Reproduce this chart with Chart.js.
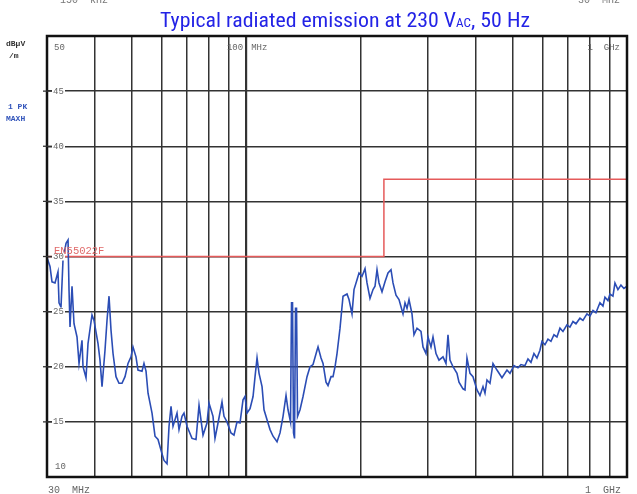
<!DOCTYPE html>
<html><head><meta charset="utf-8">
<script src="https://cdn.jsdelivr.net/npm/chart.js@4.4.0/dist/chart.umd.min.js"></script>
<style>
html,body{margin:0;padding:0;background:#fff;}
#wrap{position:relative;width:637px;height:494px;overflow:hidden;background:#fff;}
#c{position:absolute;left:0;top:0;}
#title{position:absolute;left:160px;top:8px;white-space:nowrap;font-family:'Liberation Sans Narrow','Roboto Condensed','Liberation Sans',Arial,sans-serif;font-size:20px;line-height:24px;color:#2323e6;transform-origin:0 0;}
#title .sub{font-size:12px;}
</style></head><body>
<div id="wrap"><canvas id="c" width="637" height="494"></canvas><div id="title">Typical radiated emission at 230 V<span class="sub">AC</span>, 50 Hz</div></div>
<script>
// Peak trace (MHz, dBµV/m)
const traceFreqMHz = [30.0,30.55,30.92,31.49,32.06,32.26,32.65,33.05,33.66,34.07,34.27,34.48,34.90,35.32,35.97,36.41,37.07,37.30,37.98,38.44,39.38,39.86,40.84,41.33,41.84,42.60,43.12,43.65,44.18,44.72,45.53,46.36,47.21,48.08,48.96,49.85,50.46,51.38,52.00,53.28,53.92,54.59,55.26,56.61,57.64,58.70,60.13,60.86,61.98,62.74,63.50,64.27,65.84,66.64,67.86,68.68,69.94,72.09,73.85,75.21,77.05,78.93,79.89,81.85,82.84,84.36,86.42,87.47,89.07,91.25,92.92,94.63,96.36,98.13,99.32,100.54,102.38,104.26,105.53,106.81,108.11,110.09,111.42,113.46,115.54,117.66,120.53,122.74,124.99,127.27,128.82,130.78,131.57,132.37,133.17,133.98,134.79,135.61,136.43,138.51,141.05,144.49,147.13,149.84,153.50,154.44,157.26,159.18,162.08,164.05,167.06,169.09,171.15,173.22,176.39,179.63,184.01,186.26,189.66,191.96,195.48,197.86,201.48,205.18,207.66,211.46,215.34,217.96,220.60,223.29,227.37,231.54,235.77,240.08,243.01,247.45,251.98,258.15,261.29,264.45,267.68,272.57,275.87,280.93,287.81,291.32,296.64,300.25,305.74,309.47,315.12,320.89,328.75,334.76,338.83,342.94,349.24,357.76,362.12,371.00,375.50,380.05,387.01,394.11,398.90,403.73,411.12,418.67,423.76,428.89,436.74,444.76,455.61,469.60,484.00,492.86,504.91,517.29,526.75,539.65,549.52,559.57,569.79,580.22,590.84,598.03,609.00,620.13,631.47,643.00,654.78,666.76,679.01,695.57,708.30,721.31,734.45,752.43,766.25,784.95,799.31,814.00,828.86,849.12,864.71,875.22,891.22,902.03,918.59,929.76,946.74,964.05,981.65,1000];
const traceLevel = [29.9,29.1,27.7,27.6,28.6,25.8,25.4,29.7,31.2,31.5,27.0,23.6,27.3,23.9,22.7,20.3,22.4,20.0,19.0,22.1,24.7,24.2,22.1,20.6,18.2,21.5,24.2,26.4,23.3,21.2,19.1,18.5,18.5,19.1,20.3,20.9,21.8,20.9,19.7,19.6,20.3,19.6,17.6,15.8,13.7,13.4,12.1,11.5,11.2,14.6,16.4,14.6,15.8,14.3,15.5,15.8,14.6,13.5,13.4,16.5,13.8,14.9,16.7,15.5,13.5,14.9,16.8,15.5,15.0,14.0,13.8,15.0,14.9,17.0,17.3,15.8,16.2,17.3,19.1,20.8,19.4,18.2,16.1,15.2,14.3,13.7,13.2,14.0,15.5,17.4,16.1,15.0,25.8,25.8,14.0,13.5,25.3,25.3,15.5,16.1,17.3,19.1,20.0,20.2,21.5,21.8,20.8,20.3,18.6,18.3,19.1,19.1,20.0,21.2,23.5,26.4,26.6,26.1,24.8,27.0,27.9,28.5,28.2,28.9,27.6,26.2,27.0,27.3,28.8,27.6,26.8,27.7,28.5,28.8,27.6,26.5,26.1,24.8,25.8,25.3,26.1,24.8,22.9,23.5,23.2,21.8,21.2,22.7,21.8,22.7,21.2,20.6,20.9,20.3,22.9,20.6,20.0,19.4,18.6,18.0,17.9,20.8,19.4,19.1,18.5,17.9,17.4,18.2,17.6,18.8,18.5,20.3,19.7,19.0,19.7,19.4,20.1,19.9,20.2,20.1,20.7,20.4,21.2,20.8,21.5,22.3,22.0,22.5,22.3,22.9,22.7,23.5,23.2,23.8,23.6,24.1,23.9,24.4,24.2,24.8,24.6,25.1,24.9,25.8,25.5,26.3,26.0,26.6,26.4,27.6,27.0,27.4,27.1,27.3];
// EN55022 class limit (step)
const limitFreqMHz = [30, 230, 230, 1000];
const limitLevel = [30, 30, 37, 37];
// Axis grid / tick values
const xGridMHz = [30,40,50,60,70,80,90,100,200,300,400,500,600,700,800,900,1000];
const yTickValues = [10,15,20,25,30,35,40,45,50];

const MONO = '"Liberation Mono","DejaVu Sans Mono",monospace';

const labelsPlugin = {
  id: 'labels',
  afterDraw(chart) {
    const ctx = chart.ctx, xs = chart.scales.x, ys = chart.scales.y, a = chart.chartArea;
    ctx.save();
    // frame
    ctx.strokeStyle = '#111'; ctx.lineWidth = 2.5;
    ctx.strokeRect(a.left, a.top, a.right - a.left, a.bottom - a.top);
    // y tick labels on the lines
    ctx.font = '9px ' + MONO; ctx.textBaseline = 'middle'; ctx.textAlign = 'left';
    yTickValues.forEach(v => {
      const y = ys.getPixelForValue(v);
      if (v === 50) { ctx.fillStyle = '#666'; ctx.fillText('50', a.left + 7, a.top + 12); return; }
      if (v === 10) { ctx.fillStyle = '#666'; ctx.fillText('10', a.left + 8, a.bottom - 10); return; }
      ctx.fillStyle = '#fff'; ctx.fillRect(a.left + 5, y - 4, 13, 8);
      ctx.strokeStyle = '#333'; ctx.lineWidth = 1.3;
      ctx.beginPath(); ctx.moveTo(a.left - 4, y); ctx.lineTo(a.left + 5, y); ctx.stroke();
      ctx.fillStyle = '#666'; ctx.fillText(String(v), a.left + 6, y);
    });
    // x labels
    ctx.font = '9px ' + MONO; ctx.fillStyle = '#666';
    const x100 = xs.getPixelForValue(100);
    ctx.textAlign = 'right'; ctx.fillText('100', x100 - 3, a.top + 12);
    ctx.textAlign = 'left'; ctx.fillText('MHz', x100 + 5, a.top + 12);
    ctx.textAlign = 'right'; ctx.fillText('1  GHz', a.right - 7, a.top + 12);
    ctx.font = '10px ' + MONO;
    ctx.fillText('1  GHz', a.right - 6, a.bottom + 13);
    ctx.textAlign = 'left'; ctx.fillText('30  MHz', a.left + 1, a.bottom + 13);
    // cut-off header texts
    ctx.fillStyle = '#777';
    ctx.fillText('150  kHz', 60, 0);
    ctx.textAlign = 'right'; ctx.fillText('30  MHz', 620, 0);
    // limit label
    ctx.textAlign = 'left'; ctx.textBaseline = 'alphabetic';
    ctx.font = '10.5px ' + MONO; ctx.fillStyle = '#e06a6a';
    ctx.fillText('EN55022F', a.left + 7, ys.getPixelForValue(30) - 3);
    // left side labels
    ctx.font = 'bold 8px ' + MONO; ctx.fillStyle = '#333';
    ctx.fillText('dB\u00b5V', 6, 46);
    ctx.fillText('/m', 9, 58);
    ctx.fillStyle = '#3355bb';
    ctx.fillText('1 PK', 8, 109);
    ctx.fillText('MAXH', 6, 121);
    ctx.restore();
  }
};

new Chart(document.getElementById('c'), {
  type: 'line',
  data: {
    datasets: [
      { label: '1 PK MAXH', data: traceFreqMHz.map((f, i) => ({ x: f, y: traceLevel[i] })),
        borderColor: '#2b4db5', borderWidth: 1.6, pointRadius: 0, tension: 0, fill: false },
      { label: 'EN55022F', data: limitFreqMHz.map((f, i) => ({ x: f, y: limitLevel[i] })),
        borderColor: '#e55a5a', borderWidth: 1.5, pointRadius: 0, tension: 0, fill: false }
    ]
  },
  options: {
    responsive: false, animation: false, devicePixelRatio: 1,
    layout: { padding: { left: 47, top: 36, right: 10, bottom: 17 } },
    plugins: { legend: { display: false }, tooltip: { enabled: false }, title: { display: false } },
    scales: {
      x: { type: 'logarithmic', min: 30, max: 1000,
        afterBuildTicks: s => { s.ticks = xGridMHz.map(v => ({ value: v })); },
        ticks: { display: false },
        border: { display: false },
        grid: { drawTicks: false, color: '#333',
          lineWidth: c => (c.tick && c.tick.value === 100) ? 2.2 : 1.5 } },
      y: { type: 'linear', min: 10, max: 50,
        afterBuildTicks: s => { s.ticks = yTickValues.map(v => ({ value: v })); },
        ticks: { display: false },
        border: { display: false },
        grid: { drawTicks: false, color: '#333', lineWidth: 1.5 } }
    }
  },
  plugins: [labelsPlugin]
});

// fit the title to the width it has in the reference
const t = document.getElementById('title');
const w = t.getBoundingClientRect().width;
t.style.transform = 'scaleX(' + (370 / w) + ')';
</script>
</body></html>
